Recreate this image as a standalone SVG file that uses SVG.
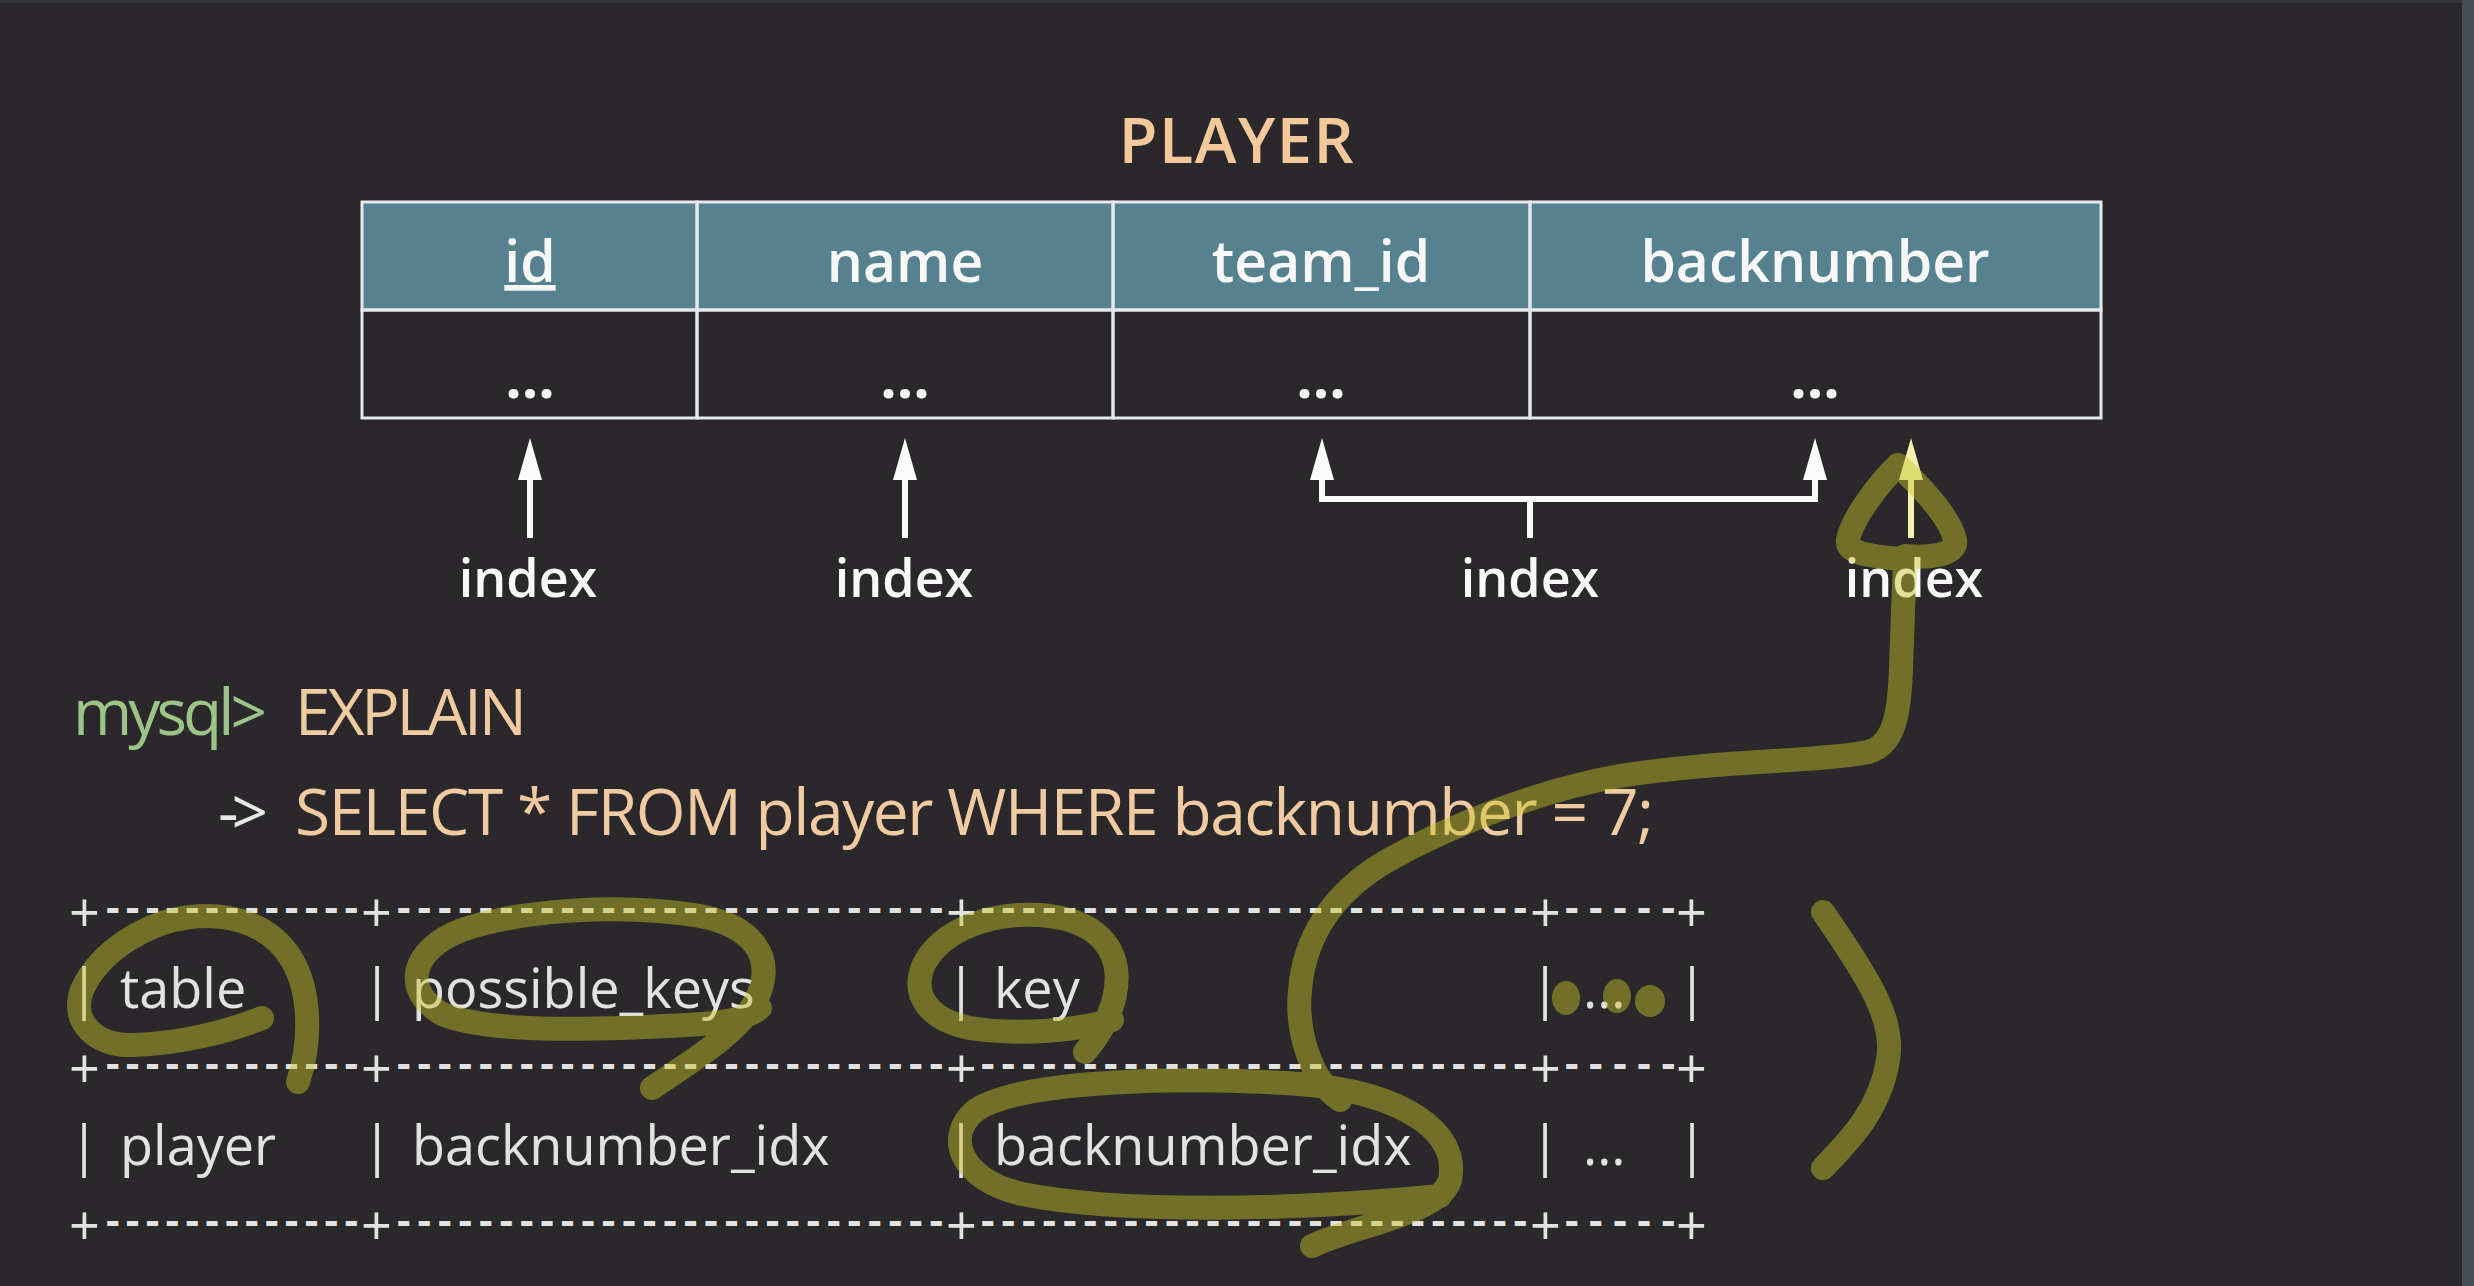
<svg xmlns="http://www.w3.org/2000/svg" width="2474" height="1286" viewBox="0 0 2474 1286">
  <defs>
    <style>
      .t { font-family: "Open Sans", "DejaVu Sans", sans-serif; }
      .title { font-size: 63px; font-weight: 600; fill: #f3c99b; letter-spacing: 1.5px; }
      .hdr { font-size: 57px; font-weight: 600; fill: #f7f7f7; text-anchor: middle; }
      .dots { font-size: 58px; font-weight: 700; fill: #f4f4f4; text-anchor: middle; }
      .cell { fill: none; stroke: #e4eaec; stroke-width: 3; }
      .hfill { fill: #56818f; }
      .lbl { font-size: 52px; font-weight: 600; fill: #f8f8f8; text-anchor: middle; }
      .conn { fill: none; stroke: #fafafa; stroke-width: 6; }
      .connY { fill: none; stroke: #f3f0b0; stroke-width: 6; }
      .sql { font-size: 64px; }
      .prompt { fill: #9cc488; }
      .kw { fill: #f0cba2; }
      .cont { fill: #e8e8e8; }
      .ascii { font-size: 54px; fill: #e2e2e2; }
      .dash { font-size: 42px; font-weight: 700; fill: #e2e2e2; }
      .pen { fill: none; stroke: #c8c428; stroke-width: 24; stroke-linecap: round; stroke-linejoin: round; }
      .penfill { fill: #c8c428; }
    </style>
    <marker id="ah" markerUnits="userSpaceOnUse" viewBox="0 0 42 24" markerWidth="42" markerHeight="24" refX="0" refY="12" orient="auto-start-reverse">
      <path d="M0,0 L42,12 L0,24 Z" fill="#fafafa"/>
    </marker>
    <marker id="ahY" markerUnits="userSpaceOnUse" viewBox="0 0 42 24" markerWidth="42" markerHeight="24" refX="0" refY="12" orient="auto-start-reverse">
      <path d="M0,0 L42,12 L0,24 Z" fill="#f3f0b0"/>
    </marker>
  </defs>

  <rect x="0" y="0" width="2474" height="1286" fill="#2a282b"/>
  <rect x="2462" y="0" width="12" height="1286" fill="#474c51"/>
  <rect x="0" y="0" width="2462" height="3" fill="#353437"/>

  <g id="title">
    <text class="t title" x="1237" y="163" text-anchor="middle">PLAYER</text>
  </g>

  <g id="player-table">
    <rect class="hfill" x="362" y="202" width="1739" height="108"/>
    <g id="col-id">
      <rect class="cell" x="362" y="202" width="335" height="108"/>
      <rect class="cell" x="362" y="310" width="335" height="108"/>
      <text class="t hdr" x="530" y="282" text-decoration="underline">id</text>
      <text class="t dots" x="530" y="398">...</text>
    </g>
    <g id="col-name">
      <rect class="cell" x="697" y="202" width="416" height="108"/>
      <rect class="cell" x="697" y="310" width="416" height="108"/>
      <text class="t hdr" x="905" y="282">name</text>
      <text class="t dots" x="905" y="398">...</text>
    </g>
    <g id="col-team_id">
      <rect class="cell" x="1113" y="202" width="417" height="108"/>
      <rect class="cell" x="1113" y="310" width="417" height="108"/>
      <text class="t hdr" x="1321" y="282">team_id</text>
      <text class="t dots" x="1321" y="398">...</text>
    </g>
    <g id="col-backnumber">
      <rect class="cell" x="1530" y="202" width="571" height="108"/>
      <rect class="cell" x="1530" y="310" width="571" height="108"/>
      <text class="t hdr" x="1815" y="282">backnumber</text>
      <text class="t dots" x="1815" y="398">...</text>
    </g>
  </g>

  <g id="connectors">
    <path class="conn" d="M530,538 V480" marker-end="url(#ah)"/>
    <path class="conn" d="M905,538 V480" marker-end="url(#ah)"/>
    <path class="conn" d="M1322,480 V499 H1815 V480" marker-start="url(#ah)" marker-end="url(#ah)"/>
    <path class="conn" d="M1530,499 V538"/>
    <path class="connY" d="M1911,538 V480" marker-end="url(#ahY)"/>
  </g>

  <g id="index-labels">
    <g id="index-id"><text class="t lbl" x="528" y="597">index</text></g>
    <g id="index-name"><text class="t lbl" x="904" y="597">index</text></g>
    <g id="index-team-back"><text class="t lbl" x="1530" y="597">index</text></g>
    <g id="index-back"><text class="t lbl" x="1914" y="597">index</text></g>
  </g>

  <g id="sql">
    <text class="t sql prompt" x="73" y="735" textLength="194" lengthAdjust="spacing">mysql&gt;</text>
    <text class="t sql kw" x="295" y="735" textLength="232" lengthAdjust="spacing">EXPLAIN</text>
    <text class="t sql cont" x="218" y="835" textLength="50" lengthAdjust="spacing">-&gt;</text>
    <text class="t sql kw" x="295" y="835" textLength="1359" lengthAdjust="spacing">SELECT * FROM player WHERE backnumber = 7;</text>
  </g>

  <g id="explain-result" class="t ascii">
    <g id="border-1">
      <text x="69" y="932">+</text><text x="361" y="932">+</text><text x="946" y="932">+</text><text x="1530" y="932">+</text><text x="1676" y="932">+</text>
      <text class="dash" x="106" y="922" textLength="252" lengthAdjust="spacing">-------------</text>
      <text class="dash" x="397" y="922" textLength="546" lengthAdjust="spacing">---------------------------</text>
      <text class="dash" x="981" y="922" textLength="546" lengthAdjust="spacing">---------------------------</text>
      <text class="dash" x="1565" y="922" textLength="110" lengthAdjust="spacing">-----</text>
    </g>
    <g id="row-header">
      <text x="84" y="1008" text-anchor="middle">|</text>
      <text x="120" y="1008">table</text>
      <text x="377" y="1008" text-anchor="middle">|</text>
      <text x="412" y="1008">possible_keys</text>
      <text x="961" y="1008" text-anchor="middle">|</text>
      <text x="994" y="1008">key</text>
      <text x="1545" y="1008" text-anchor="middle">|</text>
      <text x="1583" y="1008">...</text>
      <text x="1692" y="1008" text-anchor="middle">|</text>
    </g>
    <g id="border-2">
      <text x="69" y="1088">+</text><text x="361" y="1088">+</text><text x="946" y="1088">+</text><text x="1530" y="1088">+</text><text x="1676" y="1088">+</text>
      <text class="dash" x="106" y="1078" textLength="252" lengthAdjust="spacing">-------------</text>
      <text class="dash" x="397" y="1078" textLength="546" lengthAdjust="spacing">---------------------------</text>
      <text class="dash" x="981" y="1078" textLength="546" lengthAdjust="spacing">---------------------------</text>
      <text class="dash" x="1565" y="1078" textLength="110" lengthAdjust="spacing">-----</text>
    </g>
    <g id="row-data">
      <text x="84" y="1165" text-anchor="middle">|</text>
      <text x="120" y="1165">player</text>
      <text x="377" y="1165" text-anchor="middle">|</text>
      <text x="412" y="1165">backnumber_idx</text>
      <text x="961" y="1165" text-anchor="middle">|</text>
      <text x="994" y="1165">backnumber_idx</text>
      <text x="1545" y="1165" text-anchor="middle">|</text>
      <text x="1583" y="1165">...</text>
      <text x="1692" y="1165" text-anchor="middle">|</text>
    </g>
    <g id="border-3">
      <text x="69" y="1245">+</text><text x="361" y="1245">+</text><text x="946" y="1245">+</text><text x="1530" y="1245">+</text><text x="1676" y="1245">+</text>
      <text class="dash" x="106" y="1235" textLength="252" lengthAdjust="spacing">-------------</text>
      <text class="dash" x="397" y="1235" textLength="546" lengthAdjust="spacing">---------------------------</text>
      <text class="dash" x="981" y="1235" textLength="546" lengthAdjust="spacing">---------------------------</text>
      <text class="dash" x="1565" y="1235" textLength="110" lengthAdjust="spacing">-----</text>
    </g>
  </g>

  <g id="annotations" opacity="0.46">
    <path class="pen" d="M298,1082 C312,1040 310,990 292,960 C272,926 232,912 190,917 C148,922 100,950 82,990 C70,1022 96,1046 132,1045 C182,1044 232,1030 262,1018"/>
    <path class="pen" d="M652,1088 C690,1062 742,1032 758,996 C775,956 752,926 700,916 C620,903 520,910 462,930 C410,950 402,990 442,1014 C492,1034 602,1030 702,1024 C730,1022 750,1016 760,1008"/>
    <path class="pen" d="M1085,1052 C1104,1030 1120,1000 1116,968 C1110,934 1080,918 1040,915 C990,912 942,930 924,964 C910,996 930,1020 970,1028 C1020,1036 1080,1030 1112,1020"/>
    <path class="pen" d="M1312,1246 C1352,1226 1440,1214 1450,1180 C1460,1130 1400,1092 1300,1084 C1180,1076 1022,1080 976,1110 C944,1136 960,1180 1022,1194 C1122,1214 1300,1210 1440,1196"/>
    <path class="pen" d="M1340,1100 C1310,1080 1296,1030 1300,990 C1304,940 1330,895 1385,862 C1450,825 1540,790 1620,776 C1720,760 1820,762 1868,752 C1900,744 1900,700 1902,640 L1905,560 C1880,556 1846,556 1848,540 C1852,518 1880,482 1898,465 C1916,482 1950,516 1955,540 C1958,556 1926,558 1905,556"/>
    <ellipse class="penfill" cx="1566" cy="998" rx="14" ry="17"/>
    <ellipse class="penfill" cx="1617" cy="996" rx="14" ry="17"/>
    <ellipse class="penfill" cx="1650" cy="1001" rx="15" ry="16"/>
    <path class="pen" d="M1823,912 C1870,980 1895,1020 1888,1060 C1880,1110 1850,1140 1823,1168"/>
  </g>
</svg>
